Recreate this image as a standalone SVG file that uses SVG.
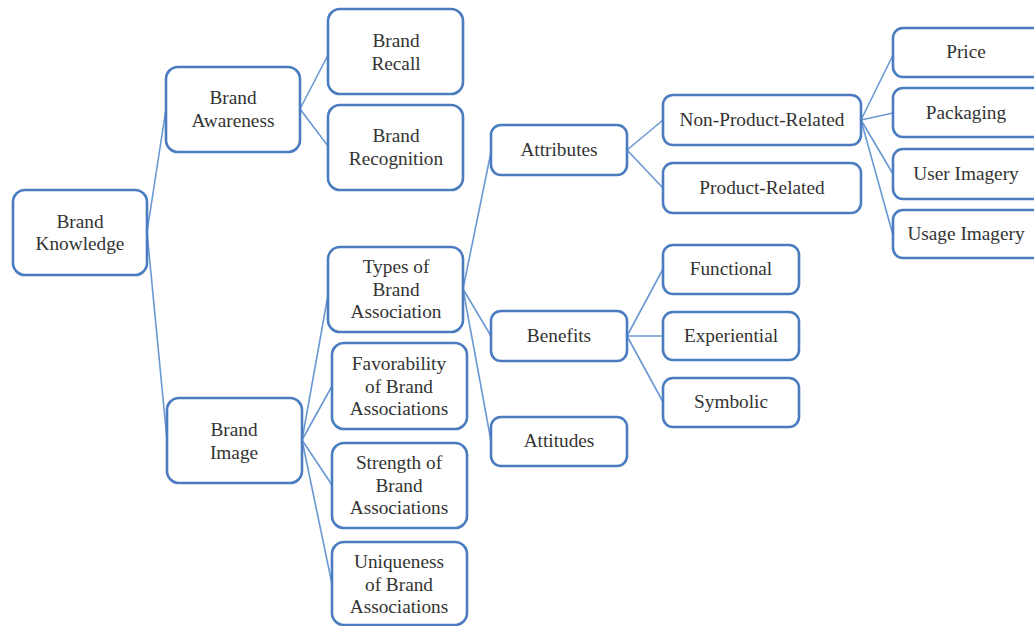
<svg xmlns="http://www.w3.org/2000/svg" width="1034" height="626" viewBox="0 0 1034 626">
<style>
.b{fill:#fff;stroke:#4a7cbf;stroke-width:2.6}
.t{font-family:'Liberation Serif','Times New Roman','DejaVu Serif',serif;font-size:19.3px;fill:#333;text-anchor:middle}
.c line{stroke:#6a98d2;stroke-width:1.6}
</style>
<rect width="1034" height="626" fill="#fff"/>
<g class="c" id="connectors">
<line x1="147" y1="232" x2="166" y2="109"/>
<line x1="147" y1="232" x2="167" y2="440"/>
<line x1="300" y1="109" x2="328" y2="55"/>
<line x1="300" y1="109" x2="328" y2="146"/>
<line x1="302" y1="440" x2="328" y2="295"/>
<line x1="302" y1="440" x2="332" y2="386"/>
<line x1="302" y1="440" x2="332" y2="485"/>
<line x1="302" y1="440" x2="332" y2="584"/>
<line x1="463" y1="289" x2="491" y2="152"/>
<line x1="463" y1="289" x2="491" y2="336"/>
<line x1="463" y1="289" x2="491" y2="441"/>
<line x1="627" y1="150" x2="663" y2="120"/>
<line x1="627" y1="150" x2="663" y2="188"/>
<line x1="861" y1="120" x2="893" y2="55"/>
<line x1="861" y1="120" x2="893" y2="113"/>
<line x1="861" y1="120" x2="893" y2="174"/>
<line x1="861" y1="120" x2="893" y2="235"/>
<line x1="627" y1="336" x2="663" y2="269"/>
<line x1="627" y1="336" x2="663" y2="336"/>
<line x1="627" y1="336" x2="663" y2="402"/>
</g>
<g id="brand-knowledge"><rect class="b" x="13" y="190" width="134" height="85" rx="12"/><text class="t" x="80" y="228">Brand</text><text class="t" x="80" y="250">Knowledge</text></g>
<g id="brand-awareness"><rect class="b" x="166" y="67" width="134" height="85" rx="12"/><text class="t" x="233" y="104">Brand</text><text class="t" x="233" y="127">Awareness</text></g>
<g id="brand-recall"><rect class="b" x="328" y="9" width="135" height="85" rx="12"/><text class="t" x="396" y="47">Brand</text><text class="t" x="396" y="70">Recall</text></g>
<g id="brand-recognition"><rect class="b" x="328" y="105" width="135" height="85" rx="12"/><text class="t" x="396" y="142">Brand</text><text class="t" x="396" y="165">Recognition</text></g>
<g id="brand-image"><rect class="b" x="167" y="398" width="135" height="85" rx="12"/><text class="t" x="234" y="436">Brand</text><text class="t" x="234" y="459">Image</text></g>
<g id="types"><rect class="b" x="328" y="247" width="135" height="85" rx="12"/><text class="t" x="396" y="273">Types of</text><text class="t" x="396" y="296">Brand</text><text class="t" x="396" y="318">Association</text></g>
<g id="favorability"><rect class="b" x="332" y="343" width="135" height="86" rx="12"/><text class="t" x="399" y="370">Favorability</text><text class="t" x="399" y="393">of Brand</text><text class="t" x="399" y="415">Associations</text></g>
<g id="strength"><rect class="b" x="332" y="443" width="135" height="85" rx="12"/><text class="t" x="399" y="469">Strength of</text><text class="t" x="399" y="492">Brand</text><text class="t" x="399" y="514">Associations</text></g>
<g id="uniqueness"><rect class="b" x="332" y="542" width="135" height="83" rx="12"/><text class="t" x="399" y="568">Uniqueness</text><text class="t" x="399" y="591">of Brand</text><text class="t" x="399" y="613">Associations</text></g>
<g id="attributes"><rect class="b" x="491" y="125" width="136" height="50" rx="10"/><text class="t" x="559" y="156">Attributes</text></g>
<g id="benefits"><rect class="b" x="491" y="311" width="136" height="50" rx="10"/><text class="t" x="559" y="342">Benefits</text></g>
<g id="attitudes"><rect class="b" x="491" y="417" width="136" height="49" rx="10"/><text class="t" x="559" y="447">Attitudes</text></g>
<g id="non-product"><rect class="b" x="663" y="95" width="198" height="50" rx="10"/><text class="t" x="762" y="126">Non-Product-Related</text></g>
<g id="product"><rect class="b" x="663" y="163" width="198" height="50" rx="10"/><text class="t" x="762" y="194">Product-Related</text></g>
<g id="price"><rect class="b" x="893" y="28" width="150" height="49" rx="10"/><text class="t" x="966" y="58">Price</text></g>
<g id="packaging"><rect class="b" x="893" y="88" width="150" height="49" rx="10"/><text class="t" x="966" y="119">Packaging</text></g>
<g id="user-imagery"><rect class="b" x="893" y="149" width="150" height="50" rx="10"/><text class="t" x="966" y="180">User Imagery</text></g>
<g id="usage-imagery"><rect class="b" x="893" y="210" width="150" height="48" rx="10"/><text class="t" x="966" y="240">Usage Imagery</text></g>
<g id="functional"><rect class="b" x="663" y="245" width="136" height="49" rx="10"/><text class="t" x="731" y="275">Functional</text></g>
<g id="experiential"><rect class="b" x="663" y="312" width="136" height="48" rx="10"/><text class="t" x="731" y="342">Experiential</text></g>
<g id="symbolic"><rect class="b" x="663" y="378" width="136" height="49" rx="10"/><text class="t" x="731" y="408">Symbolic</text></g>
</svg>
